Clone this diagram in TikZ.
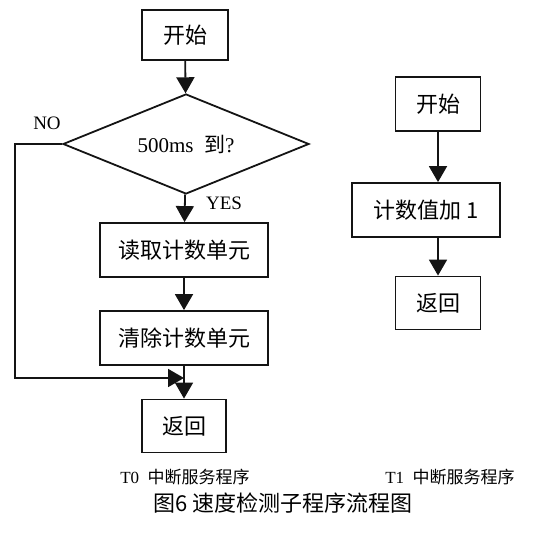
\documentclass[tikz,border=0pt]{standalone}
\usepackage{fontspec}
\setmainfont{Liberation Serif}
\newfontfamily\cjk{Noto Sans CJK SC}
\usetikzlibrary{shapes, arrows.meta, positioning, calc}
\definecolor{inkblack}{RGB}{20, 20, 20}

\begin{document}
\begin{tikzpicture}[x=0.5pt, y=-0.5pt,
    procbox/.style={draw=inkblack, line width=0.9pt, inner sep=0pt, font=\cjk\fontsize{11}{13}\selectfont},
    decision/.style={draw=inkblack, line width=0.9pt, diamond, aspect=1.6, inner sep=0pt, minimum width=123pt, minimum height=50pt},
    flow/.style={draw=inkblack, line width=0.9pt, -{Triangle[length=8pt, width=9pt]}},
    label/.style={font=\fontsize{9.5}{11}\selectfont}]
  \useasboundingbox (0,0) rectangle (533,533);

  % T0 routine
  \node[procbox, minimum width=43pt, minimum height=25pt] (start0) at (185, 35) {开始};
  \node[decision] (check) at (186, 144) {\fontsize{10.5}{12}\selectfont 500ms\ \ {\cjk 到}?};
  \node[procbox, minimum width=84pt, minimum height=27pt] (read) at (184, 250) {读取计数单元};
  \node[procbox, minimum width=84pt, minimum height=27pt] (clear) at (184, 338) {清除计数单元};
  \node[procbox, minimum width=42pt, minimum height=26.5pt] (ret0) at (184, 426) {返回};

  \node[label] (no) at (47, 123) {NO};
  \node[label] (yes) at (224, 203) {YES};

  \draw[flow] (start0) -- (check);
  \draw[flow] (check) -- (read);
  \draw[flow] (read) -- (clear);
  \draw[flow] (clear) -- (ret0);
  \coordinate (corner) at (15, 144);
  \coordinate (merge) at (184, 378);
  \draw[flow] (check.west) -- (corner) |- (merge);

  % T1 routine
  \node[procbox, minimum width=42.5pt, minimum height=27pt] (start1) at (438, 104) {开始};
  \node[procbox, minimum width=74pt, minimum height=27pt] (count) at (426, 210) {计数值加 1};
  \node[procbox, minimum width=42.5pt, minimum height=26.5pt] (ret1) at (438, 303) {返回};

  \draw[flow] (start1) -- (start1 |- count.north);
  \draw[flow] (start1 |- count.south) -- (ret1);

  % captions
  \node[font=\fontsize{8.5}{10}\selectfont] (cap0) at (185, 477) {T0\ \ {\cjk 中断服务程序}};
  \node[font=\fontsize{8.5}{10}\selectfont] (cap1) at (450, 477) {T1\ \ {\cjk 中断服务程序}};
  \node[font=\cjk\fontsize{11}{13}\selectfont] (title) at (283, 503) {图6 速度检测子程序流程图};
\end{tikzpicture}
\end{document}
